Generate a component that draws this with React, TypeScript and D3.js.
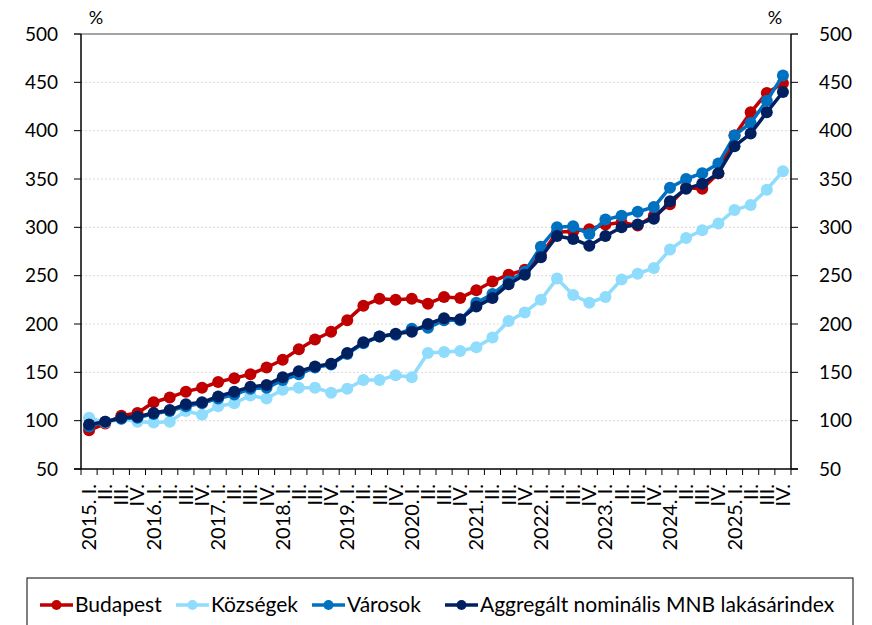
import React from 'react';
import * as d3 from 'd3';

// MNB lakásárindex, településtípus szerint (2015. I. = 100 körül)

const years = [2015, 2016, 2017, 2018, 2019, 2020, 2021, 2022, 2023, 2024, 2025];
const quarters = ['I.', 'II.', 'III.', 'IV.'];
const categories = years.flatMap(y => quarters.map(q => ({ year: y, q })));

const budapest = [90, 97, 105, 108, 119, 124, 130, 134, 140, 144, 148, 155, 163, 174, 184, 192, 204, 219, 226, 225, 226, 221, 228, 227, 235, 244, 251, 256, 271, 295, 296, 298, 303, 305, 302, 312, 324, 341, 340, 356, 395, 419, 439, 449];
const kozsegek = [103, 98, 102, 99, 98, 99, 110, 106, 115, 118, 126, 123, 132, 134, 134, 129, 133, 142, 142, 147, 145, 170, 171, 172, 176, 186, 203, 212, 225, 247, 230, 222, 228, 246, 252, 258, 277, 289, 297, 304, 318, 323, 339, 358];
const varosok = [94, 99, 102, 103, 107, 110, 115, 118, 123, 127, 133, 134, 142, 148, 155, 158, 169, 180, 187, 189, 195, 196, 204, 204, 222, 231, 244, 254, 280, 300, 301, 293, 308, 312, 316, 321, 341, 350, 356, 366, 395, 408, 431, 457];
const aggregalt = [96, 99, 103, 104, 108, 111, 117, 119, 125, 130, 135, 137, 145, 151, 156, 159, 170, 181, 187, 190, 192, 200, 206, 205, 218, 227, 241, 251, 269, 291, 288, 281, 291, 300, 303, 309, 327, 340, 345, 356, 384, 397, 419, 440];

const yTicks = [50, 100, 150, 200, 250, 300, 350, 400, 450, 500];

const seriesNames = ['Budapest', 'Községek', 'Városok', 'Aggregált nominális MNB lakásárindex'];
const seriesColors = ['#C00000', '#8FDCFC', '#0070C0', '#002060'];
const seriesData = [budapest, kozsegek, varosok, aggregalt];

const W = 872;
const H = 625;
const margin = { top: 34, right: 81, bottom: 156, left: 81 };
const font = 'Lato, "Open Sans", sans-serif';

const App = () => {
  const x = d3
    .scaleBand<number>()
    .domain(d3.range(categories.length))
    .range([margin.left, W - margin.right]);

  const y = d3
    .scaleLinear()
    .domain([50, 500])
    .range([H - margin.bottom, margin.top]);

  const cx = (i: number) => (x(i) as number) + x.bandwidth() / 2;

  const line = d3
    .line<number>()
    .x((_, i) => cx(i))
    .y(d => y(d));

  const x0 = margin.left;
  const x1 = W - margin.right;
  const yb = y(50);

  // legend item starts
  const legendX = [40, 176, 312, 445];

  return (
    <svg width={W} height={H} style={{ display: 'block', position: 'absolute', left: 0, top: 0 }} fontFamily={font}>
      <rect width={W} height={H} fill="#fff" />

      {/* grid */}
      {yTicks.filter(t => t !== 50 && t !== 500).map(t => (
        <line key={t} x1={x0} x2={x1} y1={y(t)} y2={y(t)} stroke="#d9d9d9" strokeWidth={1} strokeDasharray="2,2" />
      ))}
      <line x1={x0 - 7} x2={x1 + 7} y1={y(500)} y2={y(500)} stroke="#868686" strokeWidth={1.5} />

      {/* y axes */}
      <line x1={x0} x2={x0} y1={y(500)} y2={yb} stroke="#000" strokeWidth={1.5} />
      <line x1={x1} x2={x1} y1={y(500)} y2={yb} stroke="#000" strokeWidth={1.5} />
      {yTicks.map(t => (
        <g key={t}>
          <line x1={x0 - 7} x2={x0} y1={y(t)} y2={y(t)} stroke="#000" strokeWidth={1} />
          <line x1={x1} x2={x1 + 7} y1={y(t)} y2={y(t)} stroke="#000" strokeWidth={1} />
          <text x={58} y={y(t)} dy="0.35em" textAnchor="end" fontSize={19} fill="#000">{t}</text>
          <text x={819} y={y(t)} dy="0.35em" textAnchor="start" fontSize={19} fill="#000">{t}</text>
        </g>
      ))}
      <text x={96} y={24} textAnchor="middle" fontSize={18}>%</text>
      <text x={775} y={24} textAnchor="middle" fontSize={18}>%</text>

      {/* x axis */}
      <line x1={x0 - 7} x2={x1 + 7} y1={yb} y2={yb} stroke="#000" strokeWidth={1.5} />
      {d3.range(categories.length + 1).map(i => {
        const xx = x0 + i * x.bandwidth();
        return <line key={i} x1={xx} x2={xx} y1={yb} y2={yb + 6} stroke="#000" strokeWidth={1} />;
      })}
      {categories.map((c, i) => (
        <text
          key={i}
          transform={`translate(${cx(i) + 7},${yb + 15}) rotate(-90)`}
          textAnchor="end"
          fontSize={20}
          fill="#000"
        >
          {c.q === 'I.' ? `${c.year}. I.` : c.q}
        </text>
      ))}

      {/* series */}
      {seriesData.map((s, k) => (
        <g key={k}>
          <path d={line(s) as string} fill="none" stroke={seriesColors[k]} strokeWidth={3.5} strokeLinejoin="round" />
          {s.map((v, i) => (
            <circle key={i} cx={cx(i)} cy={y(v)} r={6} fill={seriesColors[k]} />
          ))}
        </g>
      ))}

      {/* legend */}
      <rect x={27} y={578} width={826} height={60} fill="none" stroke="#000" strokeWidth={1} />
      {seriesNames.map((n, k) => (
        <g key={k}>
          <line x1={legendX[k]} x2={legendX[k] + 33} y1={605} y2={605} stroke={seriesColors[k]} strokeWidth={3.5} />
          <circle cx={legendX[k] + 16.5} cy={605} r={5} fill={seriesColors[k]} />
          <text x={legendX[k] + 35} y={612} fontSize={21} fill="#000">{n}</text>
        </g>
      ))}
    </svg>
  );
};

export default App;
